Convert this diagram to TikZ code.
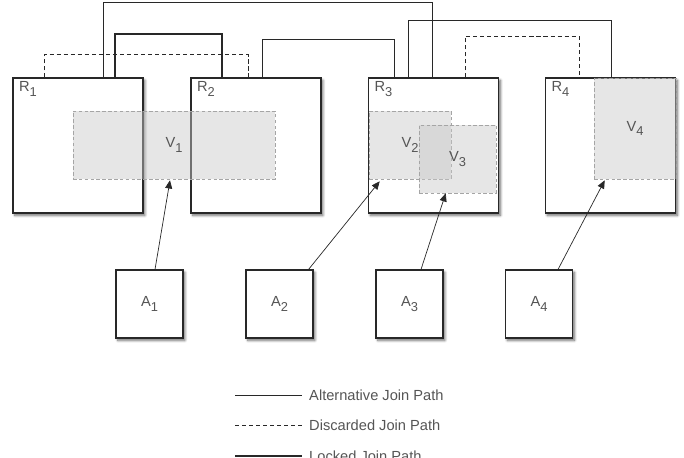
\documentclass[tikz,border=0pt]{standalone}
\usepackage{fontspec}
\setmainfont{Liberation Sans}
\usetikzlibrary{arrows.meta, positioning, calc, shadows.blur}
\definecolor{textgray}{RGB}{85, 85, 85}
\definecolor{edgegray}{RGB}{40, 40, 40}
\definecolor{viewgray}{RGB}{200, 200, 200}
\definecolor{viewedge}{RGB}{165, 165, 165}
\newcommand{\lbl}[2]{#1\raisebox{-0.55ex}{\fontsize{11}{11}\selectfont #2}}

\begin{document}
\begin{tikzpicture}[
    x=0.03cm, y=-0.03cm,
    region/.style={rectangle, draw=edgegray, fill=white, line width=0.9pt, minimum width=3.9cm, minimum height=4.05cm, inner sep=0pt, blur shadow={shadow xshift=1.6pt, shadow yshift=-2pt, shadow blur radius=2.2pt, shadow blur steps=8, shadow opacity=60}},
    agent/.style={region, minimum width=2.01cm, minimum height=2.04cm, font=\fontsize{12.5}{14}\selectfont, text=textgray},
    view/.style={rectangle, draw=viewedge, dash pattern=on 3pt off 2pt, line width=0.5pt, fill=viewgray, fill opacity=0.45, text opacity=1, inner sep=0pt, font=\fontsize{12.5}{14}\selectfont, text=textgray},
    tag/.style={anchor=north west, inner sep=0pt, xshift=5.5pt, yshift=-3.5pt, font=\fontsize{12.5}{14}\selectfont, text=textgray},
    altpath/.style={draw=edgegray, line width=0.6pt},
    droppath/.style={draw=edgegray, line width=0.6pt, dash pattern=on 3.5pt off 2.5pt},
    lockpath/.style={draw=edgegray, line width=1.7pt},
    arrow/.style={-{Triangle[length=7pt, width=6pt]}, draw=edgegray, line width=0.6pt},
    legend/.style={anchor=west, inner sep=0pt, font=\fontsize{12.5}{14}\selectfont, text=textgray}
]
\useasboundingbox (0,0) rectangle (684,458);

% Regions
\node[region, label={[tag]north west:\lbl{R}{1}}] (r1) at (78,145.5) {};
\node[region, label={[tag]north west:\lbl{R}{2}}] (r2) at (256,145.5) {};
\node[region, label={[tag]north west:\lbl{R}{3}}] (r3) at (433.5,145.5) {};
\node[region, label={[tag]north west:\lbl{R}{4}}] (r4) at (610.5,145.5) {};

% Views
\node[view, minimum width=6.06cm, minimum height=2.04cm] (v1) at (174,145) {\lbl{V}{1}};
\node[view, minimum width=2.46cm, minimum height=2.04cm] (v2) at (410,145) {\lbl{V}{2}};
\node[view, minimum width=2.31cm, minimum height=2.04cm] (v3) at (457.5,159) {\lbl{V}{3}};
\node[view, minimum width=2.46cm, minimum height=3.03cm] (v4) at (635,128.5) {\lbl{V}{4}};

% Join paths
\draw[altpath] ($(r1.north west)+(91,0)$) -- ++(0,-75) -| ($(r3.north west)+(64,0)$);
\draw[droppath] ($(r1.north west)+(32,0)$) -- ++(0,-23) -| ($(r2.north west)+(58,0)$);
\draw[lockpath] ($(r1.north west)+(103,0)$) -- ++(0,-43) -| ($(r2.north west)+(32,0)$);
\draw[altpath] ($(r2.north west)+(72,0)$) -- ++(0,-38) -| ($(r3.north west)+(26,0)$);
\draw[altpath] ($(r3.north west)+(40,0)$) -- ++(0,-57) -| ($(r4.north west)+(66,0)$);
\draw[droppath] ($(r3.north west)+(97,0)$) -- ++(0,-41) -| ($(r4.north west)+(34,0)$);

% Agents
\node[agent] (a1) at (149.5,304) {\lbl{A}{1}};
\node[agent] (a2) at (279.5,304) {\lbl{A}{2}};
\node[agent] (a3) at (409.5,304) {\lbl{A}{3}};
\node[agent] (a4) at (539,304) {\lbl{A}{4}};

% Arrows
\draw[arrow] ($(a1.north)+(5.5,0)$) -- ($(v1.south)+(-4,1)$);
\draw[arrow] ($(a2.north east)+(-5,0)$) -- ($(v2.south west)+(11,2)$);
\draw[arrow] ($(a3.north)+(11.5,0)$) -- ($(v3.south west)+(27,0)$);
\draw[arrow] ($(a4.north)+(19,0)$) -- ($(v4.south west)+(11,1)$);

% Legend
\node[legend] (altlbl) at (309,395) {Alternative Join Path};
\node[legend] (droplbl) at (309,425) {Discarded Join Path};
\node[legend] (locklbl) at (309,456) {Locked Join Path};
\draw[altpath] ($(altlbl.west)+(-74,0)$) -- ($(altlbl.west)+(-7,0)$);
\draw[droppath] ($(droplbl.west)+(-74,0)$) -- ($(droplbl.west)+(-7,0)$);
\draw[lockpath] ($(locklbl.west)+(-74,0)$) -- ($(locklbl.west)+(-7,0)$);
\end{tikzpicture}
\end{document}
